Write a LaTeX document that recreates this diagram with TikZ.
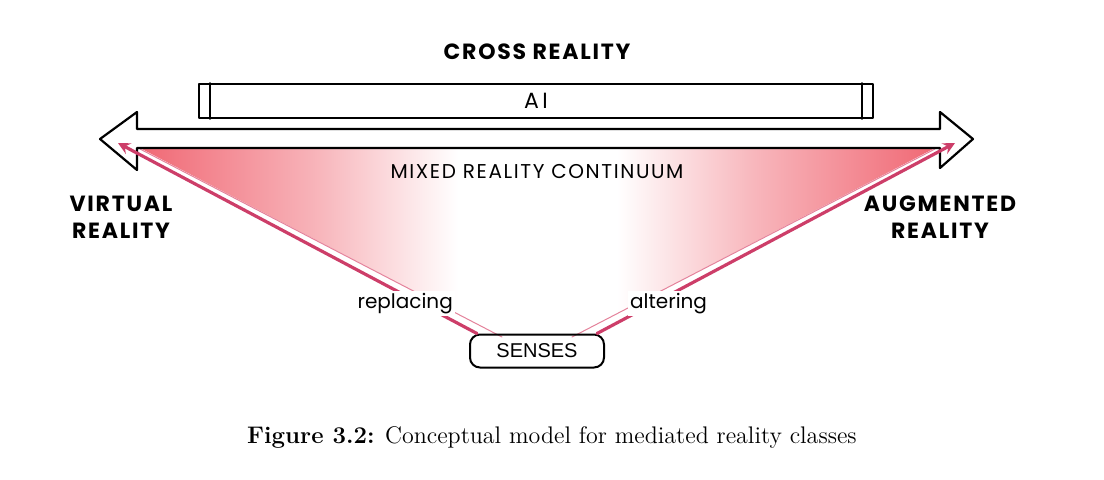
\documentclass[tikz,border=0pt]{standalone}
\usepackage{fontspec}
\newfontfamily\comicfont{Poppins}
\newfontfamily\helvfont{Liberation Sans}
\usetikzlibrary{positioning}
\definecolor{sensered}{RGB}{205,62,105}
\definecolor{senselight}{RGB}{228,130,155}
\definecolor{fadepink}{RGB}{240,104,116}
\pgfdeclarehorizontalshading{fanshade}{100bp}{color(0bp)=(fadepink); color(25bp)=(fadepink);
  color(36bp)=(fadepink!50); color(45bp)=(white); color(55bp)=(white); color(64bp)=(fadepink!50);
  color(75bp)=(fadepink); color(100bp)=(fadepink)}
\tikzset{
  handtext/.style={font=\comicfont\fontsize{10}{12}\selectfont, inner sep=1pt, text=black},
  handbold/.style={font=\comicfont\bfseries\fontsize{11}{13.5}\selectfont\addfontfeatures{LetterSpace=8},
    inner sep=1pt, align=center},
  senseto/.style={sensered, line width=1.6pt, ->},
}
\begin{document}
\begin{tikzpicture}[x=0.5pt,y=-0.5pt,>=stealth,line join=round,line cap=round]
\useasboundingbox (0,0) rectangle (1104,479);
% fan from the senses up to both ends
\shade[shading=fanshade]
  (140,148)--(935,148)--(572,337)--(502,337)--cycle;
\draw[senselight,line width=0.5pt] (140,149)--(502,337) (935,149)--(572,337);
% the continuum as a wide double arrow
\draw[line width=1.1pt,fill=white] (100,139)--(137,112)--(137,129)--(940,129)--(940,112)
  --(973,139)--(940,168)--(940,148)--(137,148)--(137,170)--cycle;
\node[draw,line width=1pt,rounded corners=5pt,minimum width=67pt,minimum height=16.5pt,
  font=\helvfont\fontsize{10}{12}\selectfont] (senses) at (537,351) {SENSES};
\coordinate (vrend) at (118,143);
\coordinate (arend) at (955,143);
\draw[senseto] ([xshift=4pt]senses.north west) -- (vrend)
  node[pos=0.2,handtext,fill=white,yshift=-4pt] (replacing) {replacing};
\draw[senseto] ([xshift=-4pt]senses.north east) -- (arend)
  node[pos=0.2,handtext,fill=white,yshift=-4pt] (altering) {altering};
% AI bar
\node[draw,line width=1pt,minimum width=337pt,minimum height=17pt,inner sep=0pt,
  font=\comicfont\fontsize{11}{13}\selectfont\addfontfeatures{LetterSpace=15}] (ai) at (536,101) {AI};
\draw[line width=0.8pt] ([xshift=6pt]ai.north west)--([xshift=6pt]ai.south west)
  ([xshift=-6pt]ai.north east)--([xshift=-6pt]ai.south east);
\node[handbold] (cross) at (537,52) {CROSS REALITY};
\node[handtext,font=\comicfont\fontsize{10}{12}\selectfont\addfontfeatures{LetterSpace=8}] (mixed)
  at (537,171) {MIXED REALITY CONTINUUM};
\node[handbold] (vr) at (121,217) {VIRTUAL\\REALITY};
\node[handbold] (ar) at (940,217) {AUGMENTED\\REALITY};
\node[font=\fontsize{12}{14}\selectfont] (caption) at (552,437)
  {\textbf{Figure 3.2:} Conceptual model for mediated reality classes};
\end{tikzpicture}
\end{document}
